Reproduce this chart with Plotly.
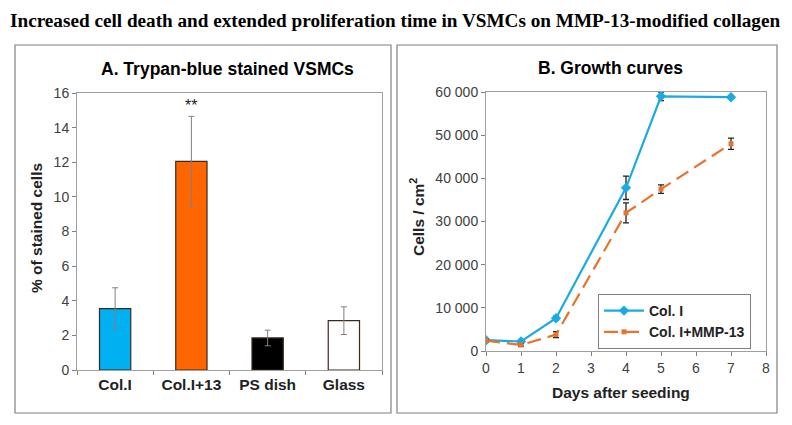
import plotly.graph_objects as go

# Panel A data
categories = ["Col.I", "Col.I+13", "PS dish", "Glass"]
stained_pct = [3.55, 12.05, 1.85, 2.85]
stained_err = [1.2, 2.6, 0.45, 0.8]
bar_colors = ["#00B0F0", "#FF6600", "#000000", "#FFFFFF"]

# Panel B data
days = [0, 1, 2, 4, 5, 7]
col1_cells = [2500, 2200, 7600, 37800, 59000, 58800]
col1_err = [300, 300, 500, 2700, 1000, 300]
mmp_cells = [2400, 1400, 3800, 32000, 37500, 48000]
mmp_err = [300, 300, 700, 2300, 1000, 1300]

# page offset (browser body margin) and figure size
OX, OY = 8, 8
W, H = 784, 417


def px(x):
    return (x - OX) / W


def py(y):
    return 1 - (y - OY) / H


fig = go.Figure()

fig.add_trace(go.Bar(
    x=categories, y=stained_pct,
    marker=dict(color=bar_colors, line=dict(color="#3a2a20", width=1.2)),
    error_y=dict(type="data", array=stained_err, color="#808080", thickness=1, width=3),
    width=0.41, xaxis="x", yaxis="y", showlegend=False,
))

fig.add_trace(go.Scatter(
    x=days, y=col1_cells, name="<b>Col. I</b>", mode="lines+markers",
    line=dict(color="#1AABE2", width=2.2),
    marker=dict(symbol="diamond", size=8, color="#1AABE2"),
    error_y=dict(type="data", array=col1_err, color="#222222", thickness=1.3, width=3),
    xaxis="x2", yaxis="y2",
))
fig.add_trace(go.Scatter(
    x=days, y=mmp_cells, name="<b>Col. I+MMP-13</b>", mode="lines+markers",
    line=dict(color="#E8732C", width=2.2, dash="14px,7px"),
    marker=dict(symbol="square", size=5, color="#E8732C"),
    error_y=dict(type="data", array=mmp_err, color="#222222", thickness=1.3, width=3),
    xaxis="x2", yaxis="y2",
))

SANS = "Liberation Sans, Arial"
tickfont = dict(family=SANS, size=14, color="#404040")
axtitle = dict(family=SANS, size=15.5, color="#222222")

fig.update_layout(
    width=W, height=H,
    margin=dict(l=0, r=0, t=0, b=0, autoexpand=False),
    paper_bgcolor="white", plot_bgcolor="white",
    separators=". ",
    xaxis=dict(domain=[px(77), px(382)], anchor="y", automargin=False,
               showline=True, linecolor="#a0a0a0", mirror=True,
               ticks="outside", tickson="boundaries", ticklen=4, tickcolor="#808080",
               tickfont=dict(family=SANS, size=15.5, color="#222222"),
               tickprefix="<b>", ticksuffix="</b>"),
    yaxis=dict(domain=[py(370), py(93)], anchor="x", range=[0, 16], dtick=2, automargin=False,
               showline=True, linecolor="#a0a0a0", mirror=True, showgrid=False, zeroline=False,
               ticks="outside", ticklen=4, tickcolor="#808080", tickfont=tickfont),
    xaxis2=dict(domain=[px(486), px(766)], anchor="y2", range=[0, 8], dtick=1, automargin=False,
                showline=True, linecolor="#a0a0a0", mirror=True, showgrid=False, zeroline=False,
                ticks="outside", ticklen=4, tickcolor="#808080", tickfont=tickfont),
    yaxis2=dict(domain=[py(351), py(92)], anchor="x2", range=[0, 60000], dtick=10000,
                tickformat=",d", automargin=False,
                showline=True, linecolor="#a0a0a0", mirror=True, showgrid=False, zeroline=False,
                ticks="outside", ticklen=4, tickcolor="#808080", tickfont=tickfont),
    legend=dict(x=px(598), y=py(294), xanchor="left", yanchor="top",
                bordercolor="#808080", borderwidth=1, bgcolor="white",
                font=dict(family=SANS, size=14, color="#222222"),
                tracegroupgap=0, itemwidth=40),
    showlegend=True,
    shapes=[
        dict(type="rect", xref="paper", yref="paper", x0=px(15), x1=px(391),
             y0=py(413), y1=py(45), line=dict(color="#808080", width=1.2)),
        dict(type="rect", xref="paper", yref="paper", x0=px(397), x1=px(777),
             y0=py(413), y1=py(45), line=dict(color="#808080", width=1.2)),
    ],
    annotations=[
        dict(text="<b>Increased cell death and extended proliferation time in VSMCs on MMP-13-modified collagen</b>",
             xref="paper", yref="paper", x=px(395), y=py(20), xanchor="center", yanchor="middle",
             showarrow=False,
             font=dict(family="Liberation Serif, Times New Roman", size=19.2, color="black")),
        dict(text="<b>A. Trypan-blue stained VSMCs</b>", xref="paper", yref="paper",
             x=px(228), y=py(69), xanchor="center", yanchor="middle", showarrow=False,
             font=dict(family=SANS, size=17.5, color="black")),
        dict(text="<b>B. Growth curves</b>", xref="paper", yref="paper",
             x=px(610), y=py(68), xanchor="center", yanchor="middle", showarrow=False,
             font=dict(family=SANS, size=17.5, color="black")),
        dict(text="<b>% of stained cells</b>", xref="paper", yref="paper",
             x=px(36), y=py(228), xanchor="center", yanchor="middle", textangle=-90,
             showarrow=False, font=axtitle),
        dict(text="<b>Cells / cm<sup>2</sup></b>", xref="paper", yref="paper",
             x=px(417), y=py(217), xanchor="center", yanchor="middle", textangle=-90,
             showarrow=False, font=axtitle),
        dict(text="<b>Days after seeding</b>", xref="paper", yref="paper",
             x=px(621), y=py(392), xanchor="center", yanchor="middle",
             showarrow=False, font=axtitle),
        dict(text="**", x="Col.I+13", y=15.3, xref="x", yref="y", showarrow=False,
             font=dict(family=SANS, size=16, color="#222222")),
    ],
)

fig.write_html("out.html")
